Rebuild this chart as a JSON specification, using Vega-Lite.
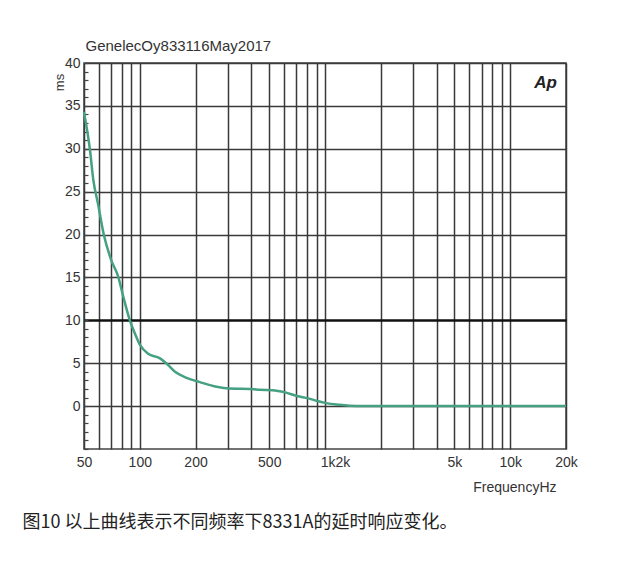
{
  "$schema": "https://vega.github.io/schema/vega-lite/v6.json",
  "width": 482,
  "height": 386,
  "autosize": {"type": "none"},
  "padding": {"left": 84, "top": 63, "right": 65, "bottom": 121},
  "background": "white",
  "config": {"view": {"stroke": "#444", "strokeWidth": 1.5}, "font": "Liberation Sans"},
  "data": {"values": [
    {"f": 50, "ms": 34.3}, {"f": 53.9, "ms": 29.8}, {"f": 56.2, "ms": 26.3}, {"f": 59.5, "ms": 23.6},
    {"f": 63.8, "ms": 20.1}, {"f": 70.2, "ms": 17.0}, {"f": 76.5, "ms": 15.1}, {"f": 81.6, "ms": 12.7},
    {"f": 88.4, "ms": 10.0}, {"f": 94, "ms": 8.5}, {"f": 100.5, "ms": 7.1}, {"f": 111, "ms": 6.1},
    {"f": 128, "ms": 5.6}, {"f": 139, "ms": 5.0}, {"f": 155, "ms": 4.0}, {"f": 179, "ms": 3.3},
    {"f": 211, "ms": 2.8}, {"f": 260, "ms": 2.25}, {"f": 306, "ms": 2.05}, {"f": 404, "ms": 2.0},
    {"f": 444, "ms": 1.9}, {"f": 520, "ms": 1.86}, {"f": 609, "ms": 1.6}, {"f": 706, "ms": 1.17},
    {"f": 812, "ms": 0.9}, {"f": 900, "ms": 0.62}, {"f": 1000, "ms": 0.38}, {"f": 1200, "ms": 0.15},
    {"f": 1360, "ms": 0.05}, {"f": 1600, "ms": 0}, {"f": 2000, "ms": 0}, {"f": 5000, "ms": 0},
    {"f": 20000, "ms": 0}
  ]},
  "layer": [
    {
      "mark": {"type": "line", "color": "#45a084", "strokeWidth": 2.5, "interpolate": "monotone"},
      "encoding": {
        "x": {"field": "f", "type": "quantitative",
          "scale": {"type": "log", "domain": [50, 20000], "nice": false},
          "axis": {"orient": "bottom",
            "values": [50, 60, 70, 80, 90, 100, 200, 300, 400, 500, 600, 700, 800, 900, 1000, 2000, 3000, 4000, 5000, 6000, 7000, 8000, 9000, 10000, 20000],
            "labelExpr": "datum.value==50?'50':datum.value==100?'100':datum.value==200?'200':datum.value==500?'500':datum.value==1000?'1k2k':datum.value==5000?'5k':datum.value==10000?'10k':datum.value==20000?'20k':''",
            "labelOffset": {"condition": {"test": "datum.value==1000", "value": 10}, "value": 0},
            "grid": true, "gridColor": "#3a3a3a", "gridWidth": 1.5, "ticks": false, "domain": false,
            "labelFontSize": 14, "labelColor": "#333", "labelPadding": 6, "labelFlush": false, "labelOverlap": false, "labelBound": false,
            "title": "FrequencyHz", "titleX": 472, "titleY": 38, "titleAlign": "right", "titleBaseline": "middle",
            "titleFontSize": 14, "titleFontWeight": "normal", "titleColor": "#333"}},
        "y": {"field": "ms", "type": "quantitative",
          "scale": {"domain": [-5, 40], "zero": false, "nice": false},
          "axis": {"orient": "left", "values": [0, 5, 10, 15, 20, 25, 30, 35, 40],
            "grid": true,
            "gridColor": {"condition": {"test": "datum.value===10", "value": "#111"}, "value": "#3a3a3a"},
            "gridWidth": {"condition": {"test": "datum.value===10", "value": 2.5}, "value": 1.5},
            "ticks": false, "domain": false, "labelFontSize": 14, "labelColor": "#333", "labelPadding": 4,
            "title": "ms", "titleX": -25, "titleY": 19, "titleAngle": -90, "titleAlign": "center", "titleBaseline": "middle",
            "titleFontSize": 13, "titleFontWeight": "normal", "titleColor": "#333"}}
      }
    },
    {
      "mark": {"type": "line", "opacity": 0},
      "encoding": {
        "x": {"field": "f", "type": "quantitative",
          "axis": {"orient": "top", "labels": false, "ticks": false, "domain": false, "grid": false,
            "title": "GenelecOy833116May2017", "titleX": 1, "titleY": -18, "titleAlign": "left", "titleBaseline": "middle",
            "titleFontSize": 15, "titleFontWeight": "normal", "titleColor": "#333", "titleLimit": 1000}},
        "y": {"field": "ms", "type": "quantitative",
          "axis": {"orient": "left", "values": [-5, -4, -3, -2, -1, 0, 1, 2, 3, 4, 5, 6, 7, 8, 9, 10, 11, 12, 13, 14, 15, 16, 17, 18, 19, 20, 21, 22, 23, 24, 25, 26, 27, 28, 29, 30, 31, 32, 33, 34, 35, 36, 37, 38, 39, 40],
            "labels": false, "ticks": true, "tickSize": -4, "tickColor": "#444", "tickWidth": 1.2, "domain": false, "grid": false, "title": null}}
      }
    },
    {
      "mark": {"type": "line", "opacity": 0},
      "encoding": {
        "x": {"field": "f", "type": "quantitative",
          "axis": {"orient": "bottom", "labels": false, "ticks": false, "domain": false, "grid": false,
            "title": "图10 以上曲线表示不同频率下8331A的延时响应变化。", "titleX": -62, "titleY": 73, "titleAlign": "left", "titleBaseline": "middle",
            "titleFont": "Noto Sans CJK SC", "titleFontSize": 18, "titleFontWeight": "normal", "titleColor": "#222", "titleLimit": 1000}},
        "y": {"field": "ms", "type": "quantitative",
          "axis": {"orient": "right", "labels": false, "ticks": false, "domain": false, "grid": false,
            "title": "Ap", "titleX": -21, "titleY": 19, "titleAngle": 0, "titleAlign": "center", "titleBaseline": "middle",
            "titleFontSize": 17, "titleFontWeight": "bold", "titleFontStyle": "italic", "titleColor": "#222"}}
      }
    }
  ],
  "resolve": {"axis": {"x": "independent", "y": "independent"}}
}
